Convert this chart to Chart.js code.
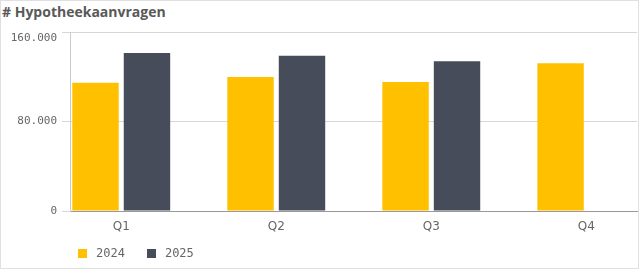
<!DOCTYPE html>
<html>
<head>
<meta charset="utf-8">
<script src="https://cdn.jsdelivr.net/npm/chart.js@4"></script>
<style>
  html, body { margin: 0; padding: 0; background: #fff; }
  #wrap { position: relative; width: 640px; height: 270px; overflow: hidden; }
  #card { position: absolute; left: 0; top: 0; width: 637px; height: 267px; border: 1px solid #e0e0e0; }
  #title { position: absolute; left: 2px; top: 2px; font-family: "Open Sans", sans-serif; font-weight: 700; font-size: 14px; color: #595959; white-space: nowrap; line-height: 20px; }
  canvas { position: absolute; left: 0; top: 0; }
  #legend { position: absolute; left: 78px; top: 244px; height: 18px; display: flex; align-items: center; font-family: "DejaVu Sans Mono", monospace; font-size: 12px; color: #666; }
  .item { display: flex; align-items: center; margin-right: 22px; }
  .sw { width: 9px; height: 9px; margin-right: 9px; }
</style>
</head>
<body>
<div id="wrap">
  <div id="card"></div>
  <div id="title"># Hypotheekaanvragen</div>
  <canvas id="c" width="640" height="270"></canvas>
  <div id="legend"></div>
</div>
<script>
const categories = ['Q1', 'Q2', 'Q3', 'Q4'];
const seriesNames = ['2024', '2025'];
const seriesColors = ['#ffc000', '#464c59'];
const values2024 = [114600, 119700, 115200, 132100];
const values2025 = [141300, 138700, 133900, null];
const yTicks = [0, 80000, 160000];

function fmt(v) {
  return String(v).replace(/\B(?=(\d{3})+(?!\d))/g, '.');
}

const toPoints = arr => categories.map((c, i) => ({ x: i, y: arr[i] }));

const chart = new Chart(document.getElementById('c'), {
  type: 'bar',
  data: {
    datasets: [
      { label: seriesNames[0], data: toPoints(values2024), backgroundColor: seriesColors[0], borderWidth: 0 },
      { label: seriesNames[1], data: toPoints(values2025), backgroundColor: seriesColors[1], borderWidth: 0 }
    ]
  },
  options: {
    responsive: false,
    animation: false,
    devicePixelRatio: 1,
    categoryPercentage: 0.664,
    barPercentage: 0.902,
    layout: { padding: { left: 0, right: 3, top: 32, bottom: 0 } },
    plugins: {
      title: { display: false },
      tooltip: { enabled: false },
      legend: { display: false }
    },
    scales: {
      x: {
        type: 'linear',
        offset: false,
        min: -0.3305,
        max: 3.327,
        afterBuildTicks: s => { s.ticks = categories.map((c, i) => ({ value: i })); },
        afterFit: s => { s.height = 59; },
        grid: { display: false, drawTicks: false },
        border: { display: true, color: '#999', width: 1 },
        ticks: {
          autoSkip: false, maxRotation: 0, padding: 9,
          color: '#666',
          font: { family: 'DejaVu Sans', size: 12 },
          callback: v => categories[v]
        }
      },
      y: {
        min: 0,
        max: 160000,
        afterBuildTicks: s => { s.ticks = yTicks.map(v => ({ value: v })); },
        afterFit: s => { s.width = 70; },
        grid: { color: '#d6d6d6', tickLength: 8, drawTicks: true },
        border: { display: true, color: '#cccccc' },
        ticks: {
          padding: 5,
          color: '#666',
          font: { family: 'DejaVu Sans Mono', size: 11 },
          callback: v => v === yTicks[yTicks.length - 1] ? ['', fmt(v)] : fmt(v)
        }
      }
    }
  }
});

// HTML legend built from the chart's datasets
const legendEl = document.getElementById('legend');
chart.data.datasets.forEach(ds => {
  const item = document.createElement('div');
  item.className = 'item';
  const sw = document.createElement('span');
  sw.className = 'sw';
  sw.style.background = ds.backgroundColor;
  const tx = document.createElement('span');
  tx.textContent = ds.label;
  item.appendChild(sw);
  item.appendChild(tx);
  legendEl.appendChild(item);
});
</script>
</body>
</html>
